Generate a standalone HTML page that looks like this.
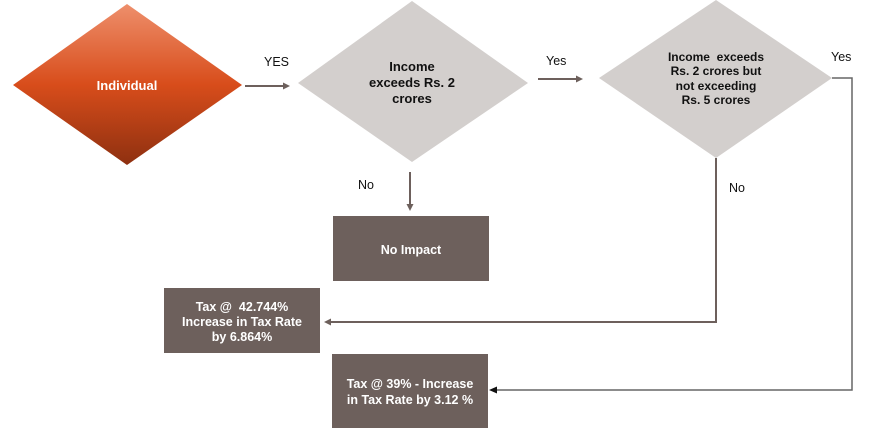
<!DOCTYPE html>
<html><head><style>
html,body{margin:0;padding:0;background:#fff;}
svg{display:block;font-family:"Liberation Sans",Arial,sans-serif;}
text{white-space:pre;}
</style></head><body>
<svg width="882" height="433" viewBox="0 0 882 433" xmlns="http://www.w3.org/2000/svg">
<defs>
<linearGradient id="g" x1="0" y1="0" x2="0" y2="1">
<stop offset="0" stop-color="#ee8f6c"/>
<stop offset="0.5" stop-color="#d84d1b"/>
<stop offset="1" stop-color="#8e3010"/>
</linearGradient>
</defs>
<polygon points="127,4 242,85 127,165 13,85" fill="url(#g)"/>
<text x="127" y="90" fill="#fff" font-size="13" font-weight="bold" text-anchor="middle">Individual</text>
<polygon points="412,1 528,83 412,162 298,83" fill="#d3cfcd"/>
<g font-size="13" font-weight="bold" text-anchor="middle" fill="#111">
<text x="412" y="71">Income</text>
<text x="412" y="87">exceeds Rs. 2</text>
<text x="412" y="103">crores</text>
</g>
<polygon points="716,0 832,78 716,158 599,78" fill="#d3cfcd"/>
<g font-size="12" font-weight="bold" text-anchor="middle" fill="#111">
<text x="716" y="61">Income  exceeds</text>
<text x="716" y="75">Rs. 2 crores but</text>
<text x="716" y="90">not exceeding</text>
<text x="716" y="104">Rs. 5 crores</text>
</g>
<g stroke="#6d605c" stroke-width="2" fill="none">
<line x1="245" y1="86" x2="286" y2="86"/>
<line x1="538" y1="79" x2="579" y2="79"/>
<line x1="410" y1="172" x2="410" y2="206"/>
<polyline points="716,158 716,322 330,322"/>
</g>
<polyline points="832,78 852,78 852,390 496,390" stroke="#666" stroke-width="1.5" fill="none"/>
<g fill="#6d605c">
<polygon points="290,86 283,82.5 283,89.5"/>
<polygon points="583,79 576,75.5 576,82.5"/>
<polygon points="410,211 406.5,204 413.5,204"/>
<polygon points="324,322 331,318.5 331,325.5"/>
</g>
<polygon points="489,390 497,386.5 497,393.5" fill="#111"/>
<g font-size="12.5" fill="#111">
<text x="264" y="66">YES</text>
<text x="546" y="65">Yes</text>
<text x="831" y="61">Yes</text>
<text x="358" y="189">No</text>
<text x="729" y="192">No</text>
</g>
<g fill="#6d605c">
<rect x="333" y="216" width="156" height="65"/>
<rect x="164" y="288" width="156" height="65"/>
<rect x="332" y="354" width="156" height="74"/>
</g>
<g font-size="12.5" font-weight="bold" fill="#fff" text-anchor="middle">
<text x="411" y="254">No Impact</text>
<text x="242" y="311">Tax @  42.744%</text>
<text x="242" y="326">Increase in Tax Rate</text>
<text x="242" y="341">by 6.864%</text>
<text x="410" y="388">Tax @ 39% - Increase</text>
<text x="410" y="404">in Tax Rate by 3.12 %</text>
</g>
</svg>
</body></html>
